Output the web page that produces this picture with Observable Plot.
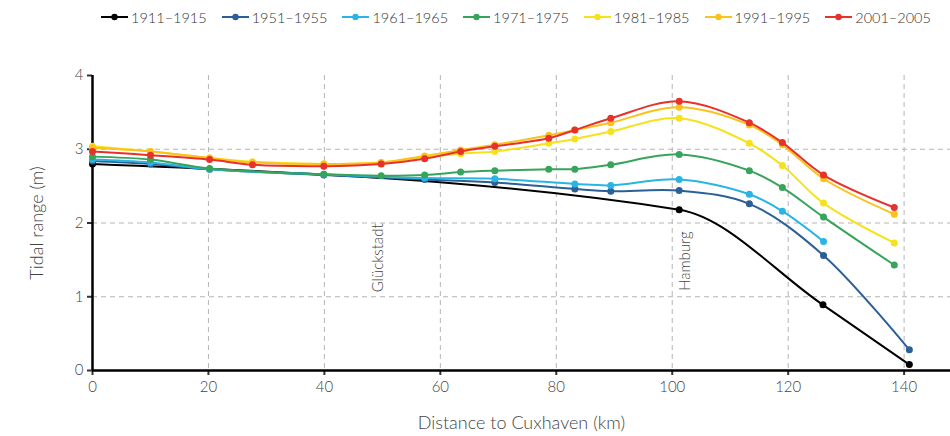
<!DOCTYPE html>
<html>
<head>
<meta charset="utf-8">
<script src="https://cdn.jsdelivr.net/npm/d3@7"></script>
<script src="https://cdn.jsdelivr.net/npm/@observablehq/plot@0.6"></script>
<style>
  html, body { margin: 0; padding: 0; background: #fff; }
  body { width: 950px; height: 436px; overflow: hidden; font-family: Lato, "Open Sans", sans-serif; font-weight: 300; color: #333; }
  #legend { height: 34px; display: flex; align-items: center; padding-left: 101px; font-size: 14.5px; white-space: nowrap; }
  .item { display: flex; align-items: center; margin-right: 15px; white-space: nowrap; flex: none; }
  .item svg { margin-right: 3px; }
  svg text { font-family: Lato, "Open Sans", sans-serif; }
</style>
</head>
<body>
<div id="legend"></div>
<div id="chart"></div>
<script>
const series = ["1911–1915", "1951–1955", "1961–1965", "1971–1975", "1981–1985", "1991–1995", "2001–2005"];
const colors = ["#000000", "#2b5f97", "#2ab4e6", "#36a55b", "#f6e21c", "#fcc11a", "#e6322a"];
const curves = ["monotone-x", "catmull-rom", "catmull-rom", "catmull-rom", "catmull-rom", "catmull-rom", "catmull-rom"];

const km1911 = [0, 101.2, 126.0, 140.9];
const tr1911 = [2.80, 2.18, 0.89, 0.08];

const km1951 = [0, 10, 20.2, 39.9, 57.3, 69.4, 83.2, 89.4, 101.2, 113.3, 126.1, 140.9];
const tr1951 = [2.84, 2.80, 2.73, 2.65, 2.59, 2.55, 2.46, 2.43, 2.44, 2.26, 1.56, 0.28];

const km1961 = [0, 10, 20.2, 39.9, 57.3, 69.4, 83.2, 89.4, 101.2, 113.3, 119.0, 126.1];
const tr1961 = [2.86, 2.82, 2.73, 2.66, 2.61, 2.60, 2.53, 2.51, 2.59, 2.39, 2.16, 1.75];

const km1971 = [0, 10, 20.2, 39.9, 49.8, 57.3, 63.5, 69.4, 78.7, 83.2, 89.4, 101.2, 113.3, 119.0, 126.1, 138.3];
const tr1971 = [2.90, 2.86, 2.74, 2.66, 2.64, 2.65, 2.69, 2.71, 2.73, 2.73, 2.79, 2.93, 2.71, 2.48, 2.08, 1.43];

const km1981 = [0, 10, 20.2, 27.6, 39.9, 49.8, 57.3, 63.5, 69.4, 78.7, 83.2, 89.4, 101.2, 113.3, 119.0, 126.1, 138.3];
const tr1981 = [3.04, 2.97, 2.88, 2.83, 2.80, 2.82, 2.89, 2.94, 2.97, 3.08, 3.14, 3.24, 3.42, 3.08, 2.78, 2.27, 1.73];

const km1991 = [0, 10, 20.2, 27.6, 39.9, 49.8, 57.3, 63.5, 69.4, 78.7, 83.2, 89.4, 101.2, 113.3, 119.0, 126.1, 138.3];
const tr1991 = [3.02, 2.97, 2.88, 2.82, 2.80, 2.82, 2.91, 2.99, 3.06, 3.19, 3.26, 3.36, 3.57, 3.33, 3.06, 2.60, 2.12];

const km2001 = [0, 10, 20.2, 27.6, 39.9, 49.8, 57.3, 63.5, 69.4, 78.7, 83.2, 89.4, 101.2, 113.3, 119.0, 126.1, 138.3];
const tr2001 = [2.97, 2.92, 2.86, 2.79, 2.77, 2.80, 2.87, 2.97, 3.04, 3.15, 3.26, 3.42, 3.65, 3.36, 3.09, 2.65, 2.21];

const xTicks = [0, 20, 40, 60, 80, 100, 120, 140];
const yTicks = [0, 1, 2, 3, 4];
const places = ["Glückstadt", "Hamburg"];
const placeKm = [49.3, 102.2];
const placeY = [1.06, 1.08];

const kmAll = [km1911, km1951, km1961, km1971, km1981, km1991, km2001];
const trAll = [tr1911, tr1951, tr1961, tr1971, tr1981, tr1991, tr2001];

const rows = [];
series.forEach((s, i) => kmAll[i].forEach((k, j) => rows.push({series: s, km: k, tr: trAll[i][j]})));
const placeRows = places.map((p, i) => ({name: p, km: placeKm[i], y: placeY[i]}));

// Legend
const legend = document.getElementById("legend");
series.forEach((s, i) => {
  const it = document.createElement("div");
  it.className = "item";
  it.innerHTML = `<svg width="27" height="10"><line x1="0" x2="27" y1="5" y2="5" stroke="${colors[i]}" stroke-width="2"/><circle cx="13.5" cy="5" r="3.2" fill="${colors[i]}"/></svg><span>${s}</span>`;
  legend.appendChild(it);
});

const seriesMarks = series.flatMap((s, i) => {
  const d = rows.filter(r => r.series === s);
  return [
    Plot.line(d, {x: "km", y: "tr", stroke: colors[i], strokeWidth: 2, curve: curves[i]}),
    Plot.dot(d, {x: "km", y: "tr", fill: colors[i], r: 3.5})
  ];
});

const chart = Plot.plot({
  width: 950,
  height: 402,
  marginLeft: 92,
  marginRight: 0,
  marginTop: 41,
  marginBottom: 66,
  style: {fontFamily: "Lato, 'Open Sans', sans-serif", fontSize: "15px", color: "#333"},
  x: {domain: [0, 148]},
  y: {domain: [0, 4]},
  marks: [
    Plot.gridX(xTicks.filter(t => t > 0), {stroke: "#b5b5b5", strokeOpacity: 1, strokeDasharray: "5,4"}),
    Plot.gridY(yTicks.filter(t => t > 0 && t < 4), {stroke: "#b5b5b5", strokeOpacity: 1, strokeDasharray: "5,4"}),
    Plot.axisX(xTicks, {tickSize: 5, strokeWidth: 2, tickPadding: 6, fontSize: 15, fill: "#444", label: null, tickFormat: d => String(d)}),
    Plot.axisY(yTicks, {tickSize: 5, strokeWidth: 2, tickPadding: 4, fontSize: 15, fill: "#444", label: null, tickFormat: d => String(d)}),
    Plot.ruleY([0], {stroke: "#000", strokeWidth: 2.5}),
    Plot.ruleX([0], {y1: 0, y2: 4, stroke: "#000", strokeWidth: 2.5}),
    Plot.text(placeRows, {x: "km", y: "y", text: "name", rotate: -90, textAnchor: "start", fontSize: 15, fill: "#444"}),
    ...seriesMarks,
    Plot.text(["Distance to Cuxhaven (km)"], {x: () => 74, y: () => 0, text: d => d, dy: 53, fontSize: 18, fill: "#444"}),
    Plot.text(["Tidal range (m)"], {x: () => 0, y: () => 2, text: d => d, rotate: -90, dx: -55, fontSize: 18, fill: "#444"})
  ]
});
document.getElementById("chart").appendChild(chart);
</script>
</body>
</html>
